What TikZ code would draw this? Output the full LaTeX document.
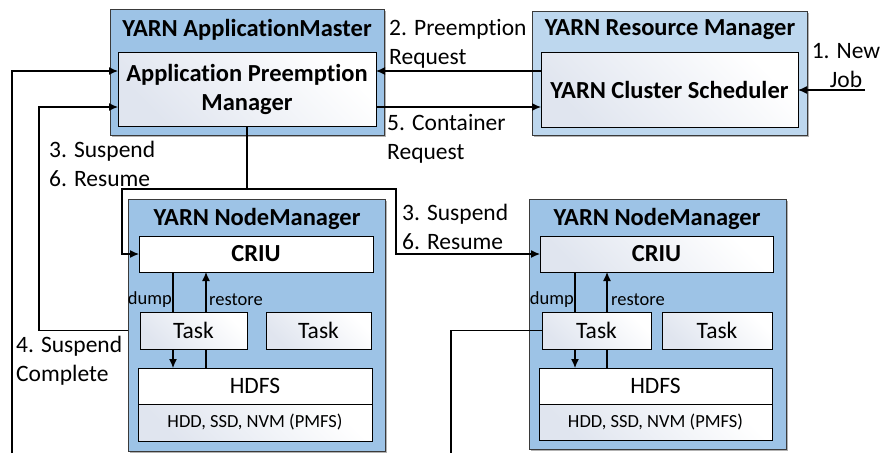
\documentclass[tikz,border=0pt]{standalone}
\usepackage{fontspec}
\setmainfont{Carlito}[Ligatures=NoCommon]
\usetikzlibrary{arrows.meta,shadows,calc}
\definecolor{amblue}{HTML}{9DC3E6}
\definecolor{rmblue}{HTML}{BDD7EE}
\definecolor{bord}{HTML}{3A3A3A}
\definecolor{gradc}{HTML}{E0E5EF}
\newcommand\myfs{\fontsize{23.5}{29}\selectfont}
\newcommand\mybf{\fontsize{24.5}{29}\selectfont\bfseries}
\newcommand\mysm{\fontsize{18.5}{22}\selectfont}
\tikzset{
 outerbox/.style={draw=bord, line width=0.9pt, inner sep=0, outer sep=0,
   drop shadow={shadow xshift=2pt,shadow yshift=-2pt,opacity=0.3,fill=black}},
 gbox/.style={draw=black, line width=0.9pt, inner sep=0, outer sep=0,
   top color=white, bottom color=gradc, shading angle=-45, font=\myfs, align=center},
 wbox/.style={draw=black, line width=0.9pt, fill=white, inner sep=0, outer sep=0, font=\myfs, align=center},
 conn/.style={line width=1.2pt, draw=black},
 arr/.style={conn, -{Latex[length=9pt,width=8pt]}},
 ttl/.style={font=\mybf, inner sep=0},
 lbl/.style={font=\myfs, align=left, inner sep=0, anchor=west},
 smlbl/.style={font=\mysm, inner sep=0},
}
\begin{document}
\begin{tikzpicture}[x=1pt,y=-1pt]
\useasboundingbox (0,0) rectangle (882,453);

% ApplicationMaster
\node (AM) [outerbox, fill=amblue, minimum width=274pt, minimum height=126pt] at (247,72) {};
\node (AMt) [ttl] at (247,30) {YARN ApplicationMaster};
\node (APM) [gbox, font=\mybf, minimum width=258pt, minimum height=74pt] at (247,89) {Application Preemption\\Manager};

% Resource Manager
\node (RM) [outerbox, fill=rmblue, minimum width=275pt, minimum height=124pt] at (669.5,73) {};
\node (RMt) [ttl] at (670,30) {YARN Resource Manager};
\node (RMS) [gbox, font=\mybf, minimum width=257pt, minimum height=75pt] at (669.5,89.5) {YARN Cluster Scheduler};

% NodeManager 1
\node (NM1) [outerbox, fill=amblue, minimum width=257pt, minimum height=252pt] at (256.5,325) {};
\node (NM1t) [ttl] at (257,219) {YARN NodeManager};
\node (CR1) [wbox, font=\mybf, minimum width=234pt, minimum height=36pt] at (256,254) {CRIU};
\node (T1a) [gbox, minimum width=107pt, minimum height=37pt] at (193.5,330.5) {Task};
\node (T1b) [gbox, minimum width=105pt, minimum height=37pt] at (318.5,330.5) {Task};
\node (H1) [wbox, minimum width=234pt, minimum height=36pt] at (255,386) {HDFS};
\node (D1) [gbox, font=\mysm, minimum width=234pt, minimum height=37pt] at (255,422.5) {HDD, SSD, NVM (PMFS)};

% NodeManager 2
\node (NM2) [outerbox, fill=amblue, minimum width=257pt, minimum height=250pt] at (657.5,324) {};
\node (NM2t) [ttl] at (657,219) {YARN NodeManager};
\node (CR2) [gbox, font=\mybf, minimum width=233pt, minimum height=36pt] at (656.5,254) {CRIU};
\node (T2a) [gbox, minimum width=109pt, minimum height=37pt] at (596.5,330.5) {Task};
\node (T2b) [gbox, minimum width=110pt, minimum height=37pt] at (717,330.5) {Task};
\node (H2) [wbox, minimum width=233pt, minimum height=36pt] at (655.5,386) {HDFS};
\node (D2) [gbox, font=\mysm, minimum width=233pt, minimum height=36pt] at (655.5,422) {HDD, SSD, NVM (PMFS)};

% helper coordinates
\coordinate (y71) at (0,71);
\coordinate (y107) at (0,107);
\coordinate (jobend) at (865,90);
\coordinate (xl1) at (12,453);
\coordinate (xl2) at (39,0);
\coordinate (br) at (247,189);
\coordinate (xb1) at (122,0);
\coordinate (xb2) at (396,0);
\coordinate (xr) at (451,453);
\coordinate (d1) at (173,0);
\coordinate (r1) at (206,0);
\coordinate (d2) at (575,0);
\coordinate (r2) at (607,0);

% RM <-> APM
\draw[arr] (RMS.west |- y71) -- (APM.east |- y71);
\draw[arr] (APM.east |- y107) -- (RMS.west |- y107);
\draw[arr] (jobend) -- (RMS.east |- jobend);

% 3/6 from APM to CRIUs
\draw[conn] (APM.south) -- (br);
\draw[arr] (br) -- (br -| xb1) -- (xb1 |- CR1.west) -- (CR1.west);
\draw[arr] (br) -- (br -| xb2) -- (xb2 |- CR2.west) -- (CR2.west);

% 4. Suspend complete
\draw[arr] (NM1.west |- T1a) -- (xl2 |- T1a) -- (xl2 |- y107) -- (APM.west |- y107);
% outer left return
\draw[arr] (xl1) -- (xl1 |- y71) -- (APM.west |- y71);
% from NM2 task
\draw[conn] (T2a.west) -- (xr |- T2a.west) -- (xr);

% dump / restore NM1
\draw[conn] (CR1.south -| d1) -- (T1a.north -| d1);
\draw[arr] (T1a.south -| d1) -- (H1.north -| d1);
\draw[conn] (H1.north -| r1) -- (T1a.south -| r1);
\draw[arr] (T1a.north -| r1) -- (CR1.south -| r1);
% dump / restore NM2
\draw[conn] (CR2.south -| d2) -- (T2a.north -| d2);
\draw[arr] (T2a.south -| d2) -- (H2.north -| d2);
\draw[conn] (H2.north -| r2) -- (T2a.south -| r2);
\draw[arr] (T2a.north -| r2) -- (CR2.south -| r2);

% labels
\node (L2) [lbl] at (389,44) {2. Preemption\\Request};
\node (L5) [lbl] at (387,139) {5. Container\\Request};
\node (L1) [font=\myfs, align=center, inner sep=0] at (846,66) {1. New\\Job};
\node (L36a) [lbl] at (49,164) {3. Suspend\\6. Resume};
\node (L36b) [lbl] at (402,227) {3. Suspend\\6. Resume};
\node (L4) [lbl] at (16,361) {4. Suspend\\Complete};
\node (Ld1) [smlbl, anchor=east] at (172,300) {dump};
\node (Lr1) [smlbl, anchor=west] at (209,300) {restore};
\node (Ld2) [smlbl, anchor=east] at (574,300) {dump};
\node (Lr2) [smlbl, anchor=west] at (611,300) {restore};
\end{tikzpicture}
\end{document}
